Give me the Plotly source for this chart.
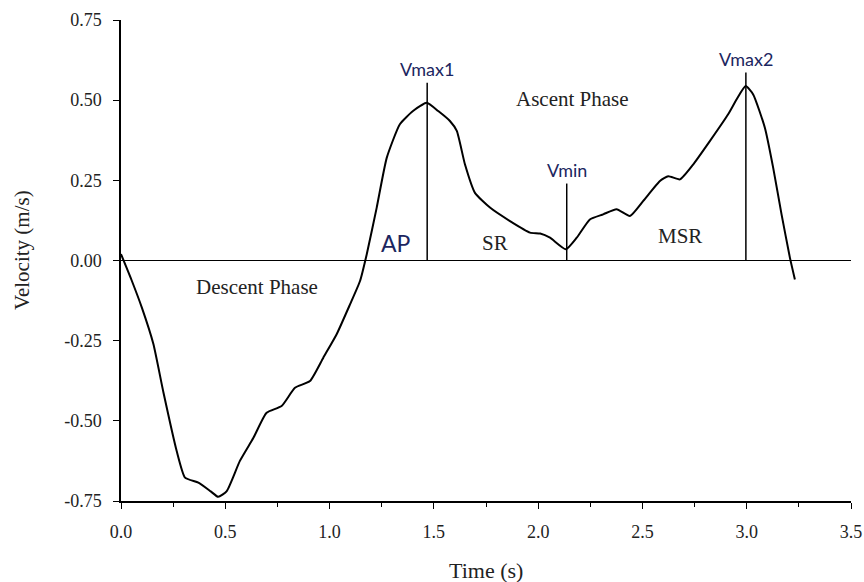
import plotly.graph_objects as go

# Velocity curve
time_s = [0.0, 0.05, 0.10, 0.155, 0.203, 0.267, 0.307, 0.371, 0.43, 0.466, 0.507, 0.57, 0.635, 0.698, 0.77, 0.834,
          0.906, 0.97, 1.034, 1.098, 1.146, 1.178, 1.226, 1.274, 1.337, 1.40, 1.466, 1.521, 1.577,
          1.61, 1.649, 1.697, 1.769, 1.865, 1.961, 2.01, 2.057, 2.133, 2.185, 2.248, 2.312, 2.376,
          2.44, 2.504, 2.584, 2.624, 2.68, 2.744, 2.824, 2.911, 2.952, 2.995, 3.031, 3.087, 3.127,
          3.167, 3.207, 3.231]
velocity = [0.02, -0.06, -0.147, -0.26, -0.41, -0.594, -0.677, -0.693, -0.72, -0.737, -0.719, -0.625, -0.553, -0.475, -0.454,
            -0.397, -0.376, -0.303, -0.23, -0.137, -0.064, 0.019, 0.165, 0.32, 0.425, 0.466, 0.492,
            0.466, 0.435, 0.404, 0.30, 0.211, 0.165, 0.123, 0.087, 0.084, 0.071, 0.035, 0.071, 0.128,
            0.144, 0.16, 0.139, 0.186, 0.248, 0.263, 0.253, 0.30, 0.373, 0.456, 0.503, 0.544, 0.518,
            0.414, 0.289, 0.144, 0.009, -0.059]

# Marker lines (time, top of line) and labels
marker_names = ["Vmax1", "Vmin", "Vmax2"]
marker_times = [1.468, 2.137, 2.996]
marker_tops = [0.554, 0.24, 0.586]

x_ticks = [0.0, 0.5, 1.0, 1.5, 2.0, 2.5, 3.0, 3.5]
x_tick_labels = ["0.0", "0.5", "1.0", "1.5", "2.0", "2.5", "3.0", "3.5"]
y_ticks = [-0.75, -0.5, -0.25, 0.0, 0.25, 0.5, 0.75]
y_tick_labels = ["-0.75", "-0.50", "-0.25", "0.00", "0.25", "0.50", "0.75"]

SERIF = "Liberation Serif, Times New Roman, serif"
SANS = "Lato, Carlito, Liberation Sans, sans-serif"
LABEL_BLUE = "#1c2660"
TXT = "#222222"

fig = go.Figure()
fig.add_trace(go.Scatter(x=time_s, y=velocity, mode="lines",
                         line=dict(color="black", width=2, shape="spline", smoothing=0.5),
                         showlegend=False, hoverinfo="skip"))
for t, top in zip(marker_times, marker_tops):
    fig.add_trace(go.Scatter(x=[t, t], y=[0, top], mode="lines",
                             line=dict(color="black", width=1.5),
                             showlegend=False, hoverinfo="skip"))

for name, t, top in zip(marker_names, marker_times, marker_tops):
    fig.add_annotation(x=t, y=top, yanchor="bottom", yshift=1, text=name, showarrow=False,
                       font=dict(family=SANS, size=18, color=LABEL_BLUE))

fig.add_annotation(x=1.32, y=0.056, text="AP", showarrow=False,
                   font=dict(family=SANS, size=23, color=LABEL_BLUE))
for txt, x, y in [("SR", 1.795, 0.056), ("MSR", 2.68, 0.076),
                  ("Ascent Phase", 2.167, 0.504), ("Descent Phase", 0.65, -0.083)]:
    fig.add_annotation(x=x, y=y, text=txt, showarrow=False,
                       font=dict(family=SERIF, size=21, color=TXT))

# Axis titles
fig.add_annotation(xref="paper", yref="paper", x=-0.1356, y=0.522, xanchor="center", yanchor="middle",
                   text="Velocity (m/s)", textangle=-90, showarrow=False,
                   font=dict(family=SERIF, size=21, color=TXT))
fig.add_annotation(xref="paper", yref="paper", x=0.5, y=-0.1455, xanchor="center", yanchor="middle",
                   text="Time (s)", showarrow=False, font=dict(family=SERIF, size=22, color=TXT))

fig.update_layout(
    width=864, height=582,
    margin=dict(l=121, r=13, t=20, b=81),
    paper_bgcolor="white", plot_bgcolor="white",
    xaxis=dict(range=[0, 3.5], tickvals=x_ticks, ticktext=x_tick_labels, automargin=False,
               showgrid=False, zeroline=False, showline=True, linecolor="black", linewidth=1.5,
               ticks="outside", ticklen=6, tickcolor="black", ticklabelstandoff=8,
               minor=dict(dtick=0.25, tick0=0, ticks="outside", ticklen=4, tickcolor="black"),
               tickfont=dict(family=SERIF, size=18, color=TXT)),
    yaxis=dict(range=[-0.75, 0.75], tickvals=y_ticks, ticktext=y_tick_labels, automargin=False,
               showgrid=False, zeroline=True, zerolinecolor="black", zerolinewidth=1,
               showline=True, linecolor="black", linewidth=1.5,
               ticks="outside", ticklen=6, tickcolor="black", ticklabelstandoff=8,
               tickfont=dict(family=SERIF, size=18, color=TXT)),
)

fig.write_html("out.html")
